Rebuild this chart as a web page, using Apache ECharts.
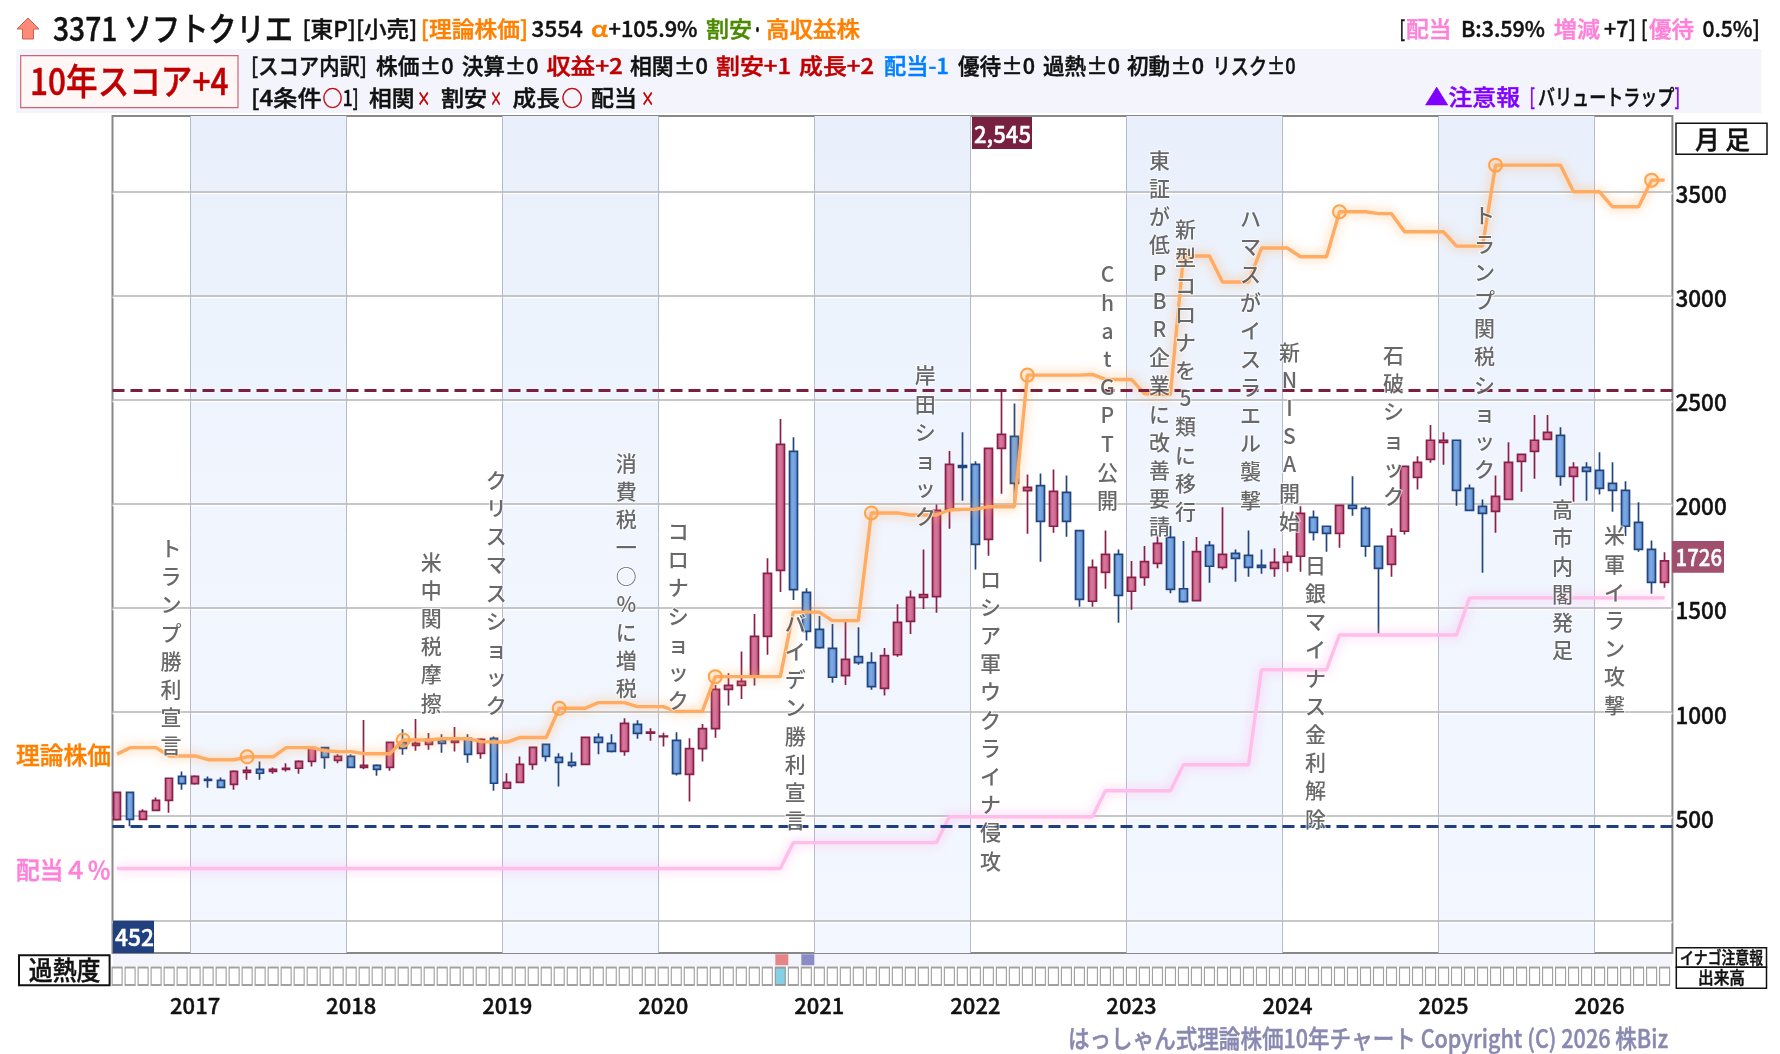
<!DOCTYPE html>
<html lang="ja">
<head>
<meta charset="utf-8">
<title>3371 ソフトクリエ 理論株価10年チャート</title>
<style>html,body{margin:0;padding:0;background:#fff}#chart{width:1780px;height:1054px}</style>
<script src="https://cdn.jsdelivr.net/npm/echarts@6/dist/echarts.min.js"></script>
</head>
<body>
<div id="chart"></div>
<script>
// Monthly candles, oldest first: [open, close, low, high]
const candles = [
[483,614,478,614],[614,485,452,614],[485,523,485,533],[528,576,528,590],[576,682,517,686],[691,656,627,715],
[656,691,651,696],[677,672,637,691],[672,638,637,686],[653,715,627,720],[710,720,675,739],[725,706,675,763],
[715,725,704,734],[725,730,715,754],[730,763,704,768],[763,829,738,829],[829,782,728,829],[768,787,754,797],
[787,734,730,797],[734,744,725,962],[744,725,694,749],[734,854,718,854],[854,825,795,917],[840,850,814,966],
[845,869,819,899],[864,850,805,893],[854,864,810,928],[874,797,757,893],[802,869,776,874],[874,658,622,883],
[634,662,629,706],[662,749,662,787],[749,830,723,830],[845,787,762,845],[782,758,642,802],[758,744,734,806],
[749,878,749,883],[878,854,797,898],[850,811,806,893],[811,946,790,970],[941,898,872,960],[899,904,862,922],
[882,885,834,901],[864,704,695,903],[701,824,570,874],[824,920,762,943],[920,1109,877,1130],[1109,1128,1031,1186],
[1128,1147,1063,1291],[1170,1363,1127,1471],[1363,1666,1275,1738],[1680,2285,1576,2407],[2252,1588,1538,2320],[1575,1387,1343,1594],
[1397,1309,1304,1461],[1306,1167,1141,1423],[1175,1253,1130,1437],[1266,1237,1227,1407],[1237,1122,1107,1287],[1114,1271,1079,1307],
[1275,1431,1266,1517],[1435,1551,1375,1584],[1551,1564,1495,1781],[1554,1968,1477,1997],[1973,2189,1880,2253],[2183,2175,2015,2343],
[2189,1805,1684,2204],[1829,2266,1751,2266],[2266,2333,2048,2545],[2324,2098,1991,2482],[2063,2079,1856,2141],[2087,1916,1722,2146],
[1892,2060,1861,2165],[2055,1916,1842,2136],[1871,1541,1506,1871],[1532,1695,1506,1733],[1671,1757,1592,1872],[1757,1560,1429,1781],
[1580,1647,1491,1725],[1647,1722,1607,1797],[1714,1810,1690,1853],[1839,1589,1570,1893],[1592,1530,1525,1821],[1535,1770,1535,1840],
[1800,1700,1621,1821],[1695,1757,1684,1983],[1762,1738,1626,1781],[1752,1695,1650,1872],[1704,1695,1664,1781],[1690,1719,1650,1786],
[1719,1748,1674,1772],[1748,1954,1674,1988],[1935,1863,1824,1968],[1892,1858,1770,1892],[1858,1992,1789,1992],[1992,1978,1943,2132],
[1978,1796,1746,1988],[1796,1690,1367,1796],[1709,1844,1650,1882],[1868,2180,1853,2180],[2127,2199,2068,2228],[2213,2305,2197,2378],
[2295,2305,2188,2343],[2305,2064,1991,2305],[2074,1968,1968,2093],[1988,1954,1669,2021],[1964,2036,1861,2136],[2021,2199,2021,2295],
[2204,2237,2058,2237],[2252,2305,2120,2426],[2309,2343,2306,2426],[2328,2132,2087,2367],[2132,2175,2010,2199],[2175,2156,2015,2199],
[2160,2074,2044,2247],[2098,2064,1962,2199],[2064,1892,1845,2108],[1911,1781,1770,2007],[1781,1623,1568,1824],[1623,1726,1597,1767]
];

// Theoretical price per month
const theory = [
798,829,829,829,789,789,789,771,771,771,785,785,
785,829,829,829,814,810,810,800,800,800,866,866,
866,872,872,872,858,856,856,878,878,878,1018,1018,
1018,1045,1045,1045,1026,1026,1026,1003,1003,1003,1170,1170,
1170,1170,1170,1170,1480,1480,1480,1439,1439,1439,1956,1956,
1956,1946,1946,1946,1970,1973,1973,1986,1986,1986,2618,2618,
2618,2618,2618,2621,2597,2597,2597,2529,2525,2525,3190,3190,
3190,3065,3065,3065,3228,3228,3228,3186,3186,3186,3402,3402,
3402,3393,3393,3306,3306,3306,3306,3237,3237,3237,3626,3626,
3626,3626,3626,3626,3498,3498,3498,3426,3426,3426,3554,3554
];

// Price at a 4% dividend yield per month
const dividend4 = [
249,249,249,249,249,249,249,249,249,249,249,249,
249,249,249,249,249,249,249,249,249,249,249,249,
249,249,249,249,249,249,249,249,249,249,249,249,
249,249,249,249,249,249,249,249,249,249,249,249,
249,249,249,249,373,373,373,373,373,373,373,373,
373,373,373,373,497,497,497,497,497,497,497,497,
497,497,497,497,622,622,622,622,622,622,747,747,
747,747,747,747,1203,1203,1203,1203,1203,1203,1370,1370,
1370,1370,1370,1370,1370,1370,1370,1370,1548,1548,1548,1548,
1548,1548,1548,1548,1548,1548,1548,1548,1548,1548,1548,1548
];

const earningsMonths = [10,22,34,46,58,70,82,94,106,118];
const januaryMonths = [6,18,30,42,54,66,78,90,102,114];
const yearLabels = ['2017','2018','2019','2020','2021','2022','2023','2024','2025','2026'];
const priceTicks = [0,500,1000,1500,2000,2500,3000,3500];
const priceLabels = [500,1000,1500,2000,2500,3000,3500];

// Market events printed down the chart
const eventNames = ['トランプ勝利宣言','米中関税摩擦','クリスマスショック','消費税一○%に増税','コロナショック','バイデン勝利宣言','岸田ショック','ロシア軍ウクライナ侵攻','ChatGPT公開','東証が低PBR企業に改善要請','新型コロナを5類に移行','ハマスがイスラエル襲撃','新NISA開始','日銀マイナス金利解除','石破ショック','トランプ関税ショック','高市内閣発足','米軍イラン攻撃'];
const eventMonths = [4,24,29,39,43,52,62,67,76,80,82,87,90,92,98,105,111,115];
const eventTops = [1853,1788,2180,2262,1935,1494,2682,1706,3167,3717,3385,3439,2796,1772,2780,3450,2039,1913];

const overheatMonths = [51];
const inagoMonths = [51];
const volumeMonths = [53];

const highPrice = Math.max(...candles.map(c => c[3]));
const lowPrice = Math.min(...candles.map(c => c[2]));
const lastClose = candles[candles.length - 1][1];

const FONT = '"Noto Sans CJK JP","Noto Sans",sans-serif';
const ORANGE = '#ff8000', PINK = '#ff80d8', RED = '#c00000', BLACK = '#111';
const measure = document.createElement('canvas').getContext('2d');

// A run of text squeezed or stretched to sit exactly between x0 and x1
function span(text, x0, x1, y, fill, size, weight) {
  const w = weight || 500;
  measure.font = w + ' ' + size + 'px ' + FONT;
  return {
    type: 'text', z: 30, x: x0, y: y, scaleX: (x1 - x0) / measure.measureText(text).width,
    style: {
      text: text, fill: fill, stroke: fill, lineWidth: 0.45,
      font: w + ' ' + size + 'px ' + FONT, textAlign: 'left', textVerticalAlign: 'middle'
    }
  };
}
function box(x0, y0, x1, y1, fill, stroke, lineWidth, z) {
  return {
    type: 'rect', z: z === undefined ? 25 : z, shape: { x: x0, y: y0, width: x1 - x0, height: y1 - y0 },
    style: { fill: fill, stroke: stroke || null, lineWidth: lineWidth || 0 }
  };
}

const header = [
  box(16, 49, 1761.4, 113, '#f4f4fd', null, 0, 0),
  box(20.7, 55.7, 238, 107.7, '#fff6f6', '#cc6677', 1.2, 1),
  box(113, 954, 1672, 966, '#f4f4fd', null, 0, 0),
  { type: 'polygon', z: 30, shape: { points: [[28,18],[39,29],[33.5,29],[33.5,39],[22.5,39],[22.5,29],[17,29]] }, style: { fill: '#ff8a78', stroke: '#c86050', lineWidth: 1 } },
  span('3371 ソフトクリエ', 53, 293, 28, BLACK, 33),
  span('[東P][小売]', 302.5, 417.3, 29, BLACK, 22),
  span('[理論株価]', 420.8, 528, 29, ORANGE, 22),
  span('3554', 531.6, 582.7, 29, BLACK, 22),
  span('α', 591, 608, 29, ORANGE, 22),
  span('+105.9%', 608.5, 697.5, 29, BLACK, 22),
  span('割安', 706, 752, 29, '#4a8a00', 22),
  span('・', 752, 763, 29, BLACK, 22),
  span('高収益株', 766, 860, 29, ORANGE, 22),
  span('[', 1399.4, 1405, 29, BLACK, 22),
  span('配当', 1406, 1451.6, 29, PINK, 22),
  span('B:3.59%', 1461, 1545, 29, BLACK, 22),
  span('増減', 1553.8, 1600, 29, PINK, 22),
  span('+7]', 1604, 1636, 29, BLACK, 22),
  span('[', 1641, 1647.5, 29, BLACK, 22),
  span('優待', 1649, 1694, 29, PINK, 22),
  span('0.5%]', 1702.5, 1760, 29, BLACK, 22),
  span('10年スコア+4', 30, 228.5, 81, RED, 36),
  span('[スコア内訳]', 251, 367, 65.5, BLACK, 22),
  span('株価±0', 376, 453.5, 65.5, BLACK, 22),
  span('決算±0', 462, 538.5, 65.5, BLACK, 22),
  span('収益+2', 546.5, 623, 65.5, RED, 22),
  span('相関±0', 630, 708, 65.5, BLACK, 22),
  span('割安+1', 716, 791, 65.5, RED, 22),
  span('成長+2', 799, 874, 65.5, RED, 22),
  span('配当-1', 884, 949, 65.5, '#0080ff', 22),
  span('優待±0', 958, 1035, 65.5, BLACK, 22),
  span('過熱±0', 1043, 1120, 65.5, BLACK, 22),
  span('初動±0', 1127, 1204, 65.5, BLACK, 22),
  span('リスク±0', 1212.6, 1295.6, 65.5, BLACK, 22),
  span('[4条件', 251, 321.5, 98, BLACK, 22),
  span('○', 322.6, 342.7, 98, RED, 22),
  span('1]', 342.7, 358.8, 98, BLACK, 22),
  span('相関', 369, 414.5, 98, BLACK, 22),
  span('×', 417, 430.5, 98, RED, 20),
  span('割安', 441, 487, 98, BLACK, 22),
  span('×', 490, 502, 98, RED, 20),
  span('成長', 512.6, 559.7, 98, BLACK, 22),
  span('○', 561.4, 582.7, 98, RED, 22),
  span('配当', 591, 637, 98, BLACK, 22),
  span('×', 641, 654.4, 98, RED, 20),
  span('▲注意報', 1424.7, 1520, 97, '#8000ff', 22),
  span('[', 1529.6, 1535, 97, '#8000ff', 22),
  span('バリュートラップ', 1538, 1674.4, 97, BLACK, 22),
  span(']', 1674.4, 1680, 97, '#8000ff', 22),
  box(1676, 123.3, 1767, 154.3, '#fff', '#111', 1.5),
  span('月 足', 1695, 1750, 139, BLACK, 25),
  box(972, 117, 1032, 149, '#782040'),
  span(highPrice.toLocaleString('en-US'), 974, 1031, 134, '#fff', 23),
  box(113, 920.7, 154, 953, '#204080'),
  span(String(lowPrice), 115, 154, 937, '#fff', 23),
  box(1672, 541, 1724, 572.7, '#a0506e'),
  span(String(lastClose), 1675.6, 1722, 557, '#fff', 23),
  span('理論株価', 16, 111, 755, ORANGE, 24),
  span('配当４％', 16, 111, 870, PINK, 24),
  box(19, 955.3, 109.6, 985.3, '#fff', '#111', 2),
  span('過熱度', 28.7, 100.5, 970, BLACK, 26),
  box(1676.3, 947.7, 1766.5, 967.3, '#fff', '#111', 1.5),
  span('イナゴ注意報', 1680, 1763, 958, BLACK, 17),
  box(1676.3, 967.3, 1766.5, 988.3, '#fff', '#111', 1.5),
  span('出来高', 1698, 1745, 978, BLACK, 17),
  span('はっしゃん式理論株価10年チャート Copyright (C) 2026 株Biz', 1068, 1668, 1038, '#8888b0', 25)
];

// Alternate years get a pale band; boundaries fall just before each January candle
const shadedYears = [0, 2, 4, 6, 8];
const yearEdge = m => m - 0.38;
const bandData = shadedYears.map(k => [
  { xAxis: yearEdge(januaryMonths[k]) },
  { xAxis: yearEdge(januaryMonths[k] + 12) }
]);

const xMin = -0.354, xMax = 119.6;
const monthIndex = candles.map((_, i) => i);

const chart = echarts.init(document.getElementById('chart'), null, { renderer: 'canvas' });
chart.setOption({
  animation: false,
  backgroundColor: '#fff',
  graphic: { elements: header },
  grid: [
    { left: 112.5, top: 116, width: 1559.9, height: 837, show: true, borderColor: '#888', borderWidth: 2, backgroundColor: 'transparent' },
    { left: 112.5, top: 953, width: 1559.9, height: 31, show: false }
  ],
  xAxis: [
    {
      type: 'value', gridIndex: 0, min: xMin, max: xMax, z: 2,
      axisLine: { show: false }, axisLabel: { show: false },
      axisTick: { show: false, customValues: januaryMonths.map(yearEdge) },
      splitLine: { show: true, lineStyle: { color: '#b8bac4', width: 1 } }
    },
    {
      type: 'value', gridIndex: 1, min: xMin, max: xMax,
      axisLine: { show: false }, splitLine: { show: false },
      axisTick: { show: false, customValues: januaryMonths },
      axisLabel: {
        show: true, customValues: januaryMonths, margin: 11, color: BLACK, fontFamily: FONT, fontSize: 22, fontWeight: 500,
        textBorderColor: BLACK, textBorderWidth: 0.4,
        formatter: v => yearLabels[januaryMonths.indexOf(v)]
      }
    }
  ],
  yAxis: [
    {
      type: 'value', gridIndex: 0, position: 'right', min: -157, max: 3862, z: 2,
      axisLine: { show: false },
      axisTick: { show: false, customValues: priceTicks },
      axisLabel: {
        show: true, customValues: priceLabels, margin: 3,
        // the figures sit a little below their grid lines
        formatter: v => '{price|' + v + '}',
        rich: {
          price: {
            color: BLACK, fontFamily: FONT, fontSize: 22.5, fontWeight: 500, lineHeight: 26,
            textBorderColor: BLACK, textBorderWidth: 0.4, padding: [6, 0, 0, 0]
          }
        }
      },
      splitLine: { show: true, lineStyle: { color: '#b4b4b4', width: 1.5, shadowColor: '#fff', shadowBlur: 0, shadowOffsetY: 1.5 } }
    },
    {
      type: 'category', gridIndex: 1, data: ['出来高', 'イナゴ'],
      axisLine: { show: false }, axisTick: { show: false }, axisLabel: { show: false }, splitLine: { show: false }
    }
  ],
  series: [
    {
      name: 'years', type: 'line', data: [], xAxisIndex: 0, yAxisIndex: 0, silent: true,
      markArea: {
        silent: true,
        itemStyle: { color: { type: 'linear', x: 0, y: 0, x2: 0, y2: 1, colorStops: [
          { offset: 0, color: '#e9f0fb' }, { offset: 0.45, color: '#f0f5fe' }, { offset: 1, color: '#f3f7ff' }
        ] } },
        data: bandData
      }
    },
    {
      name: '株価', type: 'candlestick', z: 5, xAxisIndex: 0, yAxisIndex: 0, barWidth: 8,
      data: candles.map((c, i) => [i, c[0], c[1], c[2], c[3]]),
      encode: { x: 0, y: [1, 2, 3, 4] },
      itemStyle: {
        color: { type: 'linear', x: 0, y: 0, x2: 1, y2: 0, colorStops: [
          { offset: 0, color: '#bb5580' }, { offset: 0.45, color: '#d9789f' }, { offset: 1, color: '#b84f7a' }
        ] },
        color0: { type: 'linear', x: 0, y: 0, x2: 1, y2: 0, colorStops: [
          { offset: 0, color: '#5a88c6' }, { offset: 0.45, color: '#7cabe6' }, { offset: 1, color: '#5a88c6' }
        ] },
        borderColor: '#8a2048', borderColor0: '#23457f', borderWidth: 1.7
      },
      markLine: {
        silent: true, symbol: 'none', z: 7, label: { show: false },
        data: [
          { yAxis: highPrice, lineStyle: { color: '#7a1f3d', type: [12, 6], width: 3 } },
          { yAxis: lowPrice, lineStyle: { color: '#1f3f80', type: [12, 6], width: 3 } }
        ]
      }
    },
    {
      name: '理論株価', type: 'line', z: 6, xAxisIndex: 0, yAxisIndex: 0, smooth: false,
      data: theory.map((v, i) => [i, v]),
      showSymbol: true, showAllSymbol: true, symbol: 'circle',
      symbolSize: (v, p) => earningsMonths.includes(p.dataIndex) ? 13 : 0,
      itemStyle: { color: 'rgba(255,170,90,0.18)', borderColor: '#ffa24a', borderWidth: 2 },
      lineStyle: { color: '#ffab62', width: 3.4, shadowColor: 'rgba(255,165,85,0.75)', shadowBlur: 11 }
    },
    {
      name: '配当4%', type: 'line', z: 6, xAxisIndex: 0, yAxisIndex: 0, smooth: false, showSymbol: false,
      data: dividend4.map((v, i) => [i, v]),
      lineStyle: { color: '#ffbdea', width: 3.4, shadowColor: 'rgba(255,170,230,0.8)', shadowBlur: 11 }
    },
    {
      name: 'events', type: 'scatter', z: 10, xAxisIndex: 0, yAxisIndex: 0, silent: true,
      symbolSize: 1, itemStyle: { color: 'transparent' },
      data: eventMonths.map((m, i) => [m, eventTops[i]]),
      label: {
        show: true, position: [2.5, 0], align: 'center', verticalAlign: 'top',
        color: '#444', fontFamily: FONT, fontSize: 21, fontWeight: 500, lineHeight: 28.2,
        textBorderColor: 'rgba(255,255,255,0.85)', textBorderWidth: 2,
        formatter: p => Array.from(eventNames[p.dataIndex]).join('\n')
      }
    },
    {
      name: '過熱度', type: 'scatter', z: 3, xAxisIndex: 1, yAxisIndex: 1, silent: true,
      symbol: 'rect', symbolSize: [10, 17.5],
      data: monthIndex.map(i => ({
        value: [i, 0],
        itemStyle: overheatMonths.includes(i)
          ? { color: '#68c4de', borderColor: '#888', borderWidth: 1.5 }
          : { color: '#fff', borderColor: '#8a8a8a', borderWidth: 1.5 }
      }))
    },
    {
      name: 'イナゴ注意報', type: 'scatter', z: 3, xAxisIndex: 1, yAxisIndex: 1, silent: true,
      symbol: 'rect', symbolSize: [13, 11], symbolOffset: [1.5, -1],
      itemStyle: { color: '#e06a6a' },
      data: inagoMonths.map(i => [i, 1])
    },
    {
      name: '出来高', type: 'scatter', z: 3, xAxisIndex: 1, yAxisIndex: 1, silent: true,
      symbol: 'rect', symbolSize: [13, 11], symbolOffset: [1.5, -1],
      itemStyle: { color: '#7070b8' },
      data: volumeMonths.map(i => [i, 1])
    }
  ]
});
</script>
</body>
</html>
